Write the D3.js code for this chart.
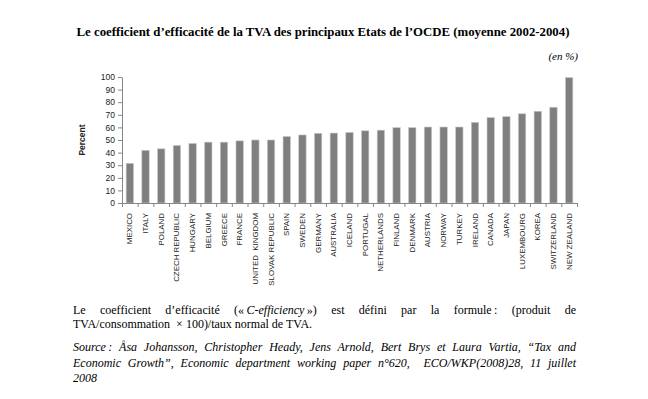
<!DOCTYPE html>
<html>
<head>
<meta charset="utf-8">
<script src="https://cdn.jsdelivr.net/npm/d3@7"></script>
<style>
  body { margin: 0; background: #fff; }
  #wrap { position: relative; width: 648px; height: 399px; overflow: hidden; }
  svg { position: absolute; left: 0; top: 0; }
  .txt { position: absolute; font-family: "Liberation Serif", "Times New Roman", serif; font-size: 12px; color: #000; white-space: nowrap; }
  .just { text-align: justify; text-align-last: justify; white-space: normal; }
</style>
</head>
<body>
<div id="wrap">
  <div id="chart"></div>
  <div class="txt just" style="left:73px; top:303px; width:503px;">Le coefficient d’efficacité (&#171;&#8239;<i>C-efficiency</i>&#8239;&#187;) est défini par la formule&#8239;: (produit de</div>
  <div class="txt" style="left:73px; top:317px;">TVA/consommation &nbsp;× 100)/taux normal de TVA.</div>
  <div class="txt just" style="left:73px; top:340px; width:503px;"><i>Source&#8239;: Åsa Johansson, Christopher Heady, Jens Arnold, Bert Brys et Laura Vartia, “Tax and</i></div>
  <div class="txt just" style="left:73px; top:356px; width:503px;"><i>Economic Growth”, Economic department working paper n°620, &nbsp;ECO/WKP(2008)28, 11 juillet</i></div>
  <div class="txt" style="left:73px; top:371px;"><i>2008</i></div>
</div>
<script>
var countries = ["MEXICO","ITALY","POLAND","CZECH REPUBLIC","HUNGARY","BELGIUM","GREECE","FRANCE","UNITED  KINGDOM","SLOVAK REPUBLIC","SPAIN","SWEDEN","GERMANY","AUSTRALIA","ICELAND","PORTUGAL","NETHERLANDS","FINLAND","DENMARK","AUSTRIA","NORWAY","TURKEY","IRELAND","CANADA","JAPAN","LUXEMBOURG","KOREA","SWITZERLAND","NEW ZEALAND"]
var values = [31.5,41.8,43,45.7,47.3,48.3,48.3,49.3,50,50,52.8,54,55.3,55.5,56,57.3,57.8,59.8,59.8,60.3,60.3,60.3,64,67.8,68.5,70.8,72.8,76,99.5]
var yTicks = [0,10,20,30,40,50,60,70,80,90,100]

var title = "Le coefficient d’efficacité de la TVA des principaux Etats de l’OCDE (moyenne 2002-2004)"
var unit = "(en %)"
var yTitle = "Percent"

var data = countries.map((c, i) => ({x: c, y: values[i]}))

var width = 648, height = 399
var plot = {left: 122, right: 577, top: 77, bottom: 203}

var svg = d3.select("#chart").append("svg")
    .attr("width", width)
    .attr("height", height)

svg.append("text")
    .attr("x", 323)
    .attr("y", 36)
    .attr("text-anchor", "middle")
    .attr("font-family", "Liberation Serif, Times New Roman, serif")
    .attr("font-weight", "bold")
    .attr("font-size", "12.8px")
    .text(title)

svg.append("text")
    .attr("x", 578)
    .attr("y", 60)
    .attr("text-anchor", "end")
    .attr("font-family", "Liberation Serif, Times New Roman, serif")
    .attr("font-style", "italic")
    .attr("font-size", "11px")
    .text(unit)

var xScale = d3.scaleBand()
    .domain(data.map(d => d.x))
    .range([plot.left, plot.right])
    .paddingInner(0.53)
    .paddingOuter(0.265)

// boundaries between categories, for Excel-style ticks
var xEdge = d3.scaleLinear()
    .domain([0, countries.length])
    .range([plot.left, plot.right])

var yScale = d3.scaleLinear()
    .domain([0, 100])
    .range([plot.bottom, plot.top])

svg.selectAll("rect.bar")
    .data(data)
    .enter().append("rect")
    .attr("class", "bar")
    .attr("x", d => xScale(d.x))
    .attr("y", d => yScale(d.y))
    .attr("width", xScale.bandwidth())
    .attr("height", d => plot.bottom - yScale(d.y))
    .attr("fill", "#7f7f7f")
    .attr("stroke", "#c8c8c8")
    .attr("stroke-width", 0.6)

var yAxis = svg.append("g")
    .attr("transform", `translate(${plot.left},0)`)
    .call(d3.axisLeft(yScale).tickValues(yTicks).tickSize(4).tickSizeOuter(0).tickPadding(3))
yAxis.selectAll("path, line").attr("stroke", "#868686")
yAxis.selectAll("text")
    .attr("font-family", "Liberation Sans, Arial, sans-serif")
    .attr("font-size", "8.5px")
    .attr("fill", "#222")

var xTicks = svg.append("g")
    .attr("transform", `translate(0,${plot.bottom})`)
    .call(d3.axisBottom(xEdge).tickValues(d3.range(countries.length + 1)).tickSize(4).tickSizeOuter(0).tickFormat(""))
xTicks.selectAll("path, line").attr("stroke", "#868686")

var xAxis = svg.append("g")
    .attr("transform", `translate(0,${plot.bottom})`)
    .call(d3.axisBottom(xScale).tickSize(0).tickSizeOuter(0))
xAxis.select("path").remove()
xAxis.selectAll("text")
    .attr("font-family", "Liberation Sans, Arial, sans-serif")
    .attr("font-size", "7.9px")
    .attr("fill", "#222")
    .attr("text-anchor", "end")
    .attr("dy", "0.32em")
    .attr("transform", "translate(0,10) rotate(-90)")
    .attr("x", 0)
    .attr("y", 0)
    .style("white-space", "pre")

svg.append("text")
    .attr("transform", `translate(85,${(plot.top + plot.bottom) / 2}) rotate(-90)`)
    .attr("text-anchor", "middle")
    .attr("font-family", "Liberation Sans, Arial, sans-serif")
    .attr("font-weight", "bold")
    .attr("font-size", "8.5px")
    .attr("fill", "#222")
    .text(yTitle)
</script>
</body>
</html>
